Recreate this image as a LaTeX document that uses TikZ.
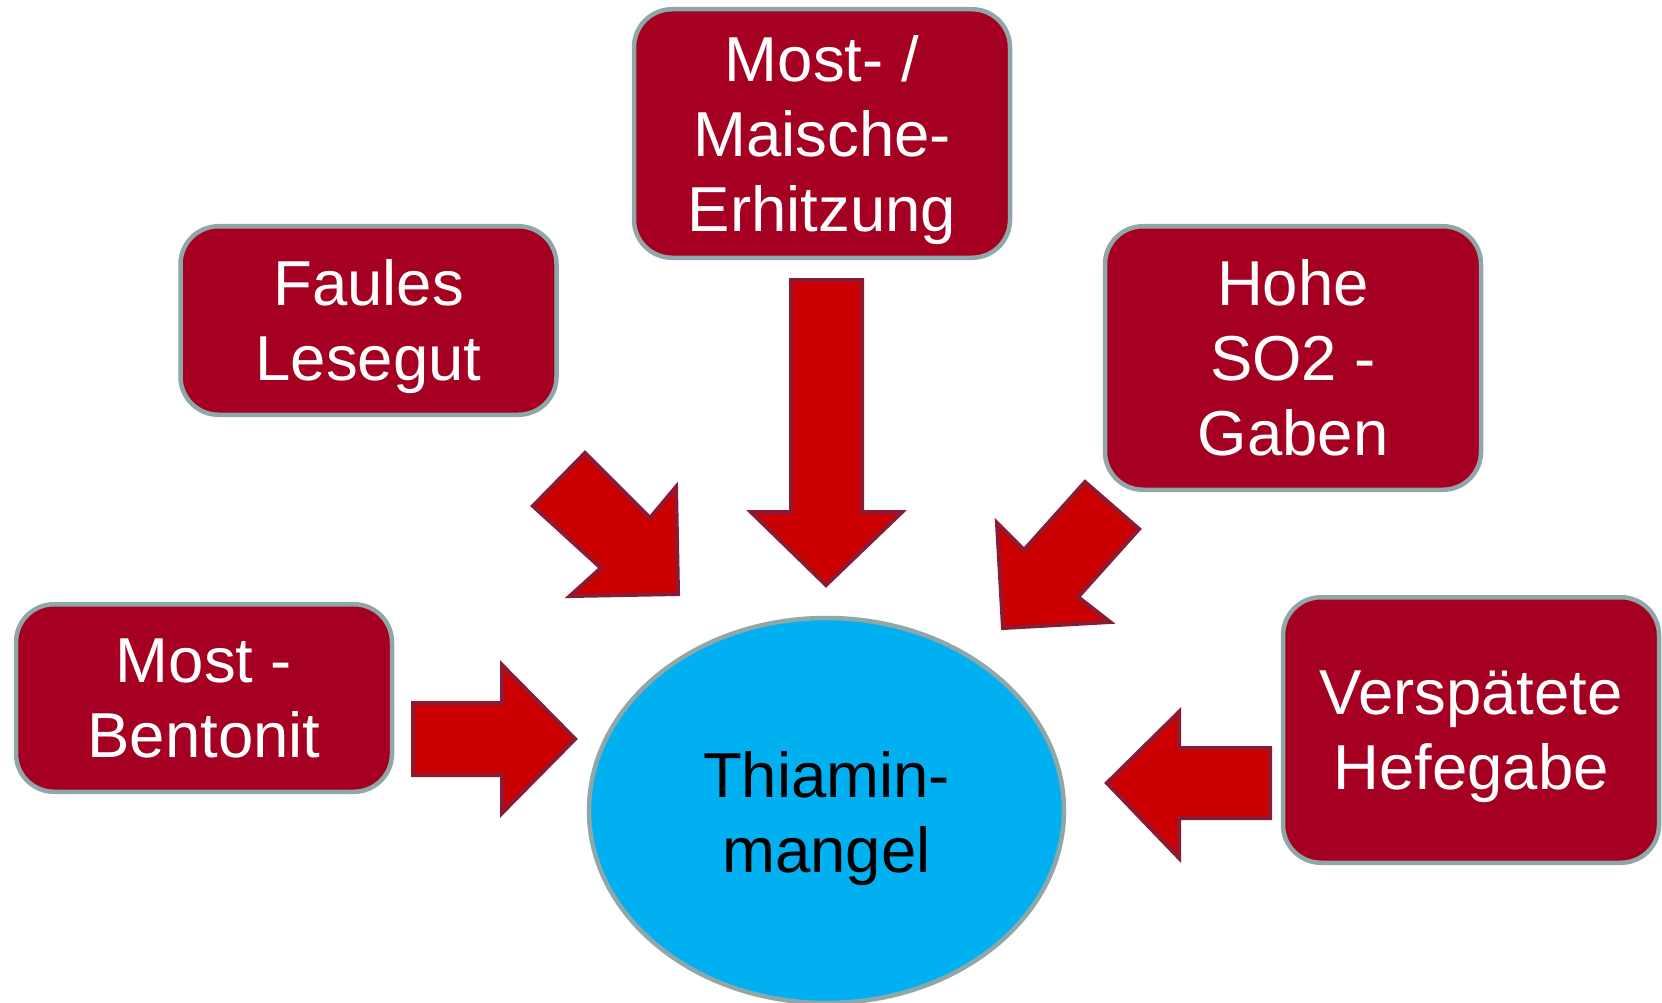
\documentclass[tikz,border=0pt]{standalone}
\usepackage{fontspec}
\setmainfont{Liberation Sans}
\begin{document}
\begin{tikzpicture}[x=1pt,y=-1pt,
  causebox/.style={draw=boxborder, line width=4.5pt, fill=boxfill, rounded corners=38pt,
    minimum width=376pt, text=white, align=center, inner sep=0pt,
    font=\fontsize{63.5}{75}\selectfont},
  blockarrow/.style={draw=arrowborder, fill=arrowfill, line width=4pt, line join=miter}]
\definecolor{boxfill}{HTML}{A50021}
\definecolor{boxborder}{HTML}{8FA7A8}
\definecolor{arrowfill}{HTML}{CC0000}
\definecolor{arrowborder}{HTML}{8B1A32}
\definecolor{ellfill}{HTML}{00B0F0}
\useasboundingbox (0,0) rectangle (1662,1003);

\node[causebox, minimum height=248.5pt] (erh) at (822,133.5) {Most- /\\Maische-\\Erhitzun\smash{g}};
\node[causebox, minimum height=188.5pt] (faul) at (368.5,320.5) {Faules\\Lese\smash{g}ut};
\node[causebox, minimum height=263.5pt] (so2) at (1293,358) {Hohe\\SO2 -\\Gaben};
\node[causebox, minimum height=187.5pt] (bent) at (204,698) {Most -\\Bentonit};
\node[causebox, minimum height=265.5pt] (hefe) at (1471,730) {Verspätete\\Hefe\smash{g}abe};

\draw[draw=boxborder, line width=4.5pt, fill=ellfill] (826.5,810.5) ellipse [x radius=237.5pt, y radius=192.5pt];
\node[align=center, inner sep=0pt, font=\fontsize{63.5}{75}\selectfont] (thia) at (826.5,812) {Thiamin-\\man\smash{g}el};

% block arrows
\draw[blockarrow] (791,280) -- (862,280) -- (862,512) -- (902,512) -- (826,585) -- (751,512) -- (791,512) -- cycle;
\draw[blockarrow] (585,453) -- (533,506) -- (601,568) -- (570,596) -- (678,594) -- (676,487) -- (650,518) -- cycle;
\draw[blockarrow] (1085,482) -- (1139,529) -- (1078,597) -- (1110,622) -- (1003,628) -- (997,523) -- (1024,550) -- cycle;
\draw[blockarrow] (413,703) -- (502,703) -- (502,665) -- (575,739) -- (502,813) -- (502,775) -- (413,775) -- cycle;
\draw[blockarrow] (1270,748) -- (1179,748) -- (1179,712) -- (1107,783) -- (1179,858) -- (1179,818) -- (1270,818) -- cycle;
\end{tikzpicture}
\end{document}
